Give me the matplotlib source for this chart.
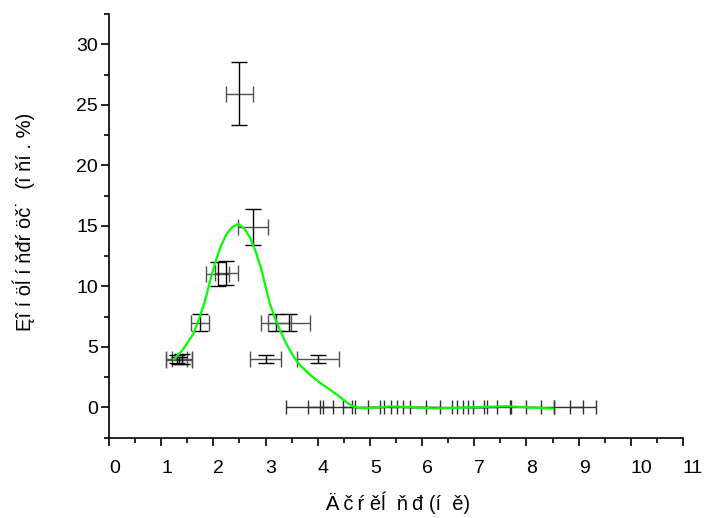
import matplotlib
matplotlib.use('Agg')
import matplotlib.pyplot as plt
from matplotlib.ticker import MultipleLocator

plt.rcParams['font.family'] = ['Liberation Sans', 'DejaVu Sans']

# points with error bars (diameter, share, x error, y error)
pt_x = [2.50, 2.76, 2.08, 2.25, 1.75, 3.20, 3.45, 1.30, 1.40, 1.35, 3.00, 4.00]
pt_y = [25.9, 14.9, 11.0, 11.1, 7.0, 7.0, 7.0, 4.0, 4.0, 3.9, 4.0, 4.0]
pt_xerr = [0.26, 0.28, 0.22, 0.22, 0.17, 0.28, 0.40, 0.20, 0.20, 0.25, 0.30, 0.40]
pt_yerr = [2.6, 1.5, 1.0, 1.0, 0.72, 0.7, 0.7, 0.3, 0.45, 0.3, 0.3, 0.3]

# points lying on zero
zero_x = [3.75, 4.06, 4.35, 4.84, 4.99, 5.24, 5.74, 5.99, 6.17, 6.92, 7.02,
          7.16, 7.33, 7.99, 8.26, 8.81, 9.09]
zero_xerr = [0.35, 0.24, 0.30, 0.35, 0.28, 0.27, 0.33, 0.35, 0.40, 0.26, 0.23,
             0.28, 0.35, 0.28, 0.27, 0.28, 0.25]

# smoothed distribution curve
fit_x = [1.25, 1.42, 1.62, 1.74, 1.84, 1.94, 2.03, 2.14, 2.25, 2.36, 2.48,
         2.59, 2.70, 2.81, 2.92, 3.00, 3.08, 3.18, 3.28, 3.37, 3.47, 3.56,
         3.66, 3.85, 4.04, 4.24, 4.43, 4.56, 4.68, 4.80, 4.94, 5.15, 5.38,
         5.80, 6.21, 6.50, 6.85, 7.25, 7.62, 8.05, 8.51]
fit_y = [4.0, 4.8, 6.1, 7.5, 8.8, 10.5, 11.9, 13.3, 14.3, 14.9, 15.15,
         14.8, 14.05, 12.9, 11.4, 10.0, 8.6, 7.4, 6.35, 5.5, 4.7, 4.05,
         3.5, 2.7, 2.05, 1.45, 0.85, 0.4, 0.08, -0.05, -0.05, 0.0, 0.08,
         0.03, -0.08, -0.05, 0.0, 0.05, 0.1, 0.0, -0.1]

xlabel = 'Ä\u2009č\u2009ŕ ěĺ  ň\u2009đ (í  ě)'
ylabel = 'Ęî í öĺ í ňđŕ öč˙  (î ňí . %)'

fig = plt.figure(figsize=(7.09, 5.18), dpi=100)
ax = fig.add_axes([109/709, 1-437.7/518, (683-109)/709, (437.7-14)/518])

ax.errorbar(pt_x, pt_y, xerr=pt_xerr, fmt='none', ecolor='#505050',
            elinewidth=1, capsize=6, capthick=1)
ax.errorbar(pt_x, pt_y, yerr=pt_yerr, fmt='none', ecolor='black',
            elinewidth=1, capsize=6, capthick=1)
ax.errorbar(zero_x, [0]*len(zero_x), xerr=zero_xerr, fmt='none',
            ecolor='#303030', elinewidth=1, capsize=5, capthick=1)

ax.plot(fit_x, fit_y, color='#00ff00', lw=1.6)

ax.set_xlim(0, 11)
ax.set_ylim(-2.5, 32.5)
ax.xaxis.set_major_locator(MultipleLocator(1))
ax.xaxis.set_minor_locator(MultipleLocator(0.5))
ax.yaxis.set_major_locator(MultipleLocator(5))
ax.yaxis.set_minor_locator(MultipleLocator(2.5))

for s in ['top', 'right']:
    ax.spines[s].set_visible(False)
for s in ['left', 'bottom']:
    ax.spines[s].set_linewidth(1.2)

ax.tick_params(which='major', direction='out', length=6, width=1.2,
               labelsize=14)
ax.tick_params(which='minor', direction='out', length=3.5, width=1.2)
ax.tick_params(axis='x', which='major', pad=10)
ax.tick_params(axis='y', which='major', pad=2)
for lab in ax.get_xticklabels():
    lab.set_horizontalalignment('left')

fig.text(398/709, 1-503/518, xlabel, ha='center', va='center', fontsize=14.5)
fig.text(24/709, 1-222/518, ylabel, ha='center', va='center',
         rotation=90, fontsize=14.5)

fig.savefig('out.png', dpi=100)
